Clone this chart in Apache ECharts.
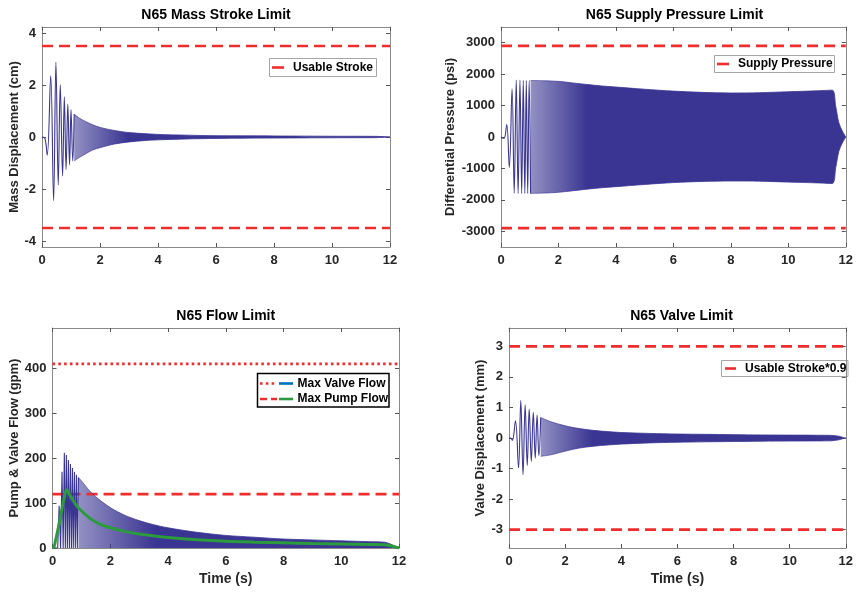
<!DOCTYPE html>
<html><head><meta charset="utf-8">
<script src="https://cdn.jsdelivr.net/npm/echarts@6/dist/echarts.min.js"></script>
<style>html,body{margin:0;padding:0;background:#fff}#c{width:856px;height:594px}</style>
</head><body><div id="c"></div>
<script>
// ---------- shared ----------
const xTicks = [0, 2, 4, 6, 8, 10, 12];

// ---------- Panel 1: N65 Mass Stroke Limit ----------
const massTicks = [-4, -2, 0, 2, 4];
const massLimit = 3.5;
const massEarlyT = [0, 0.1, 0.18, 0.30, 0.40, 0.48, 0.56, 0.63, 0.71, 0.77, 0.83, 0.89, 0.95, 1.0, 1.06, 1.11];
const massEarlyV = [0, -0.05, -0.70, 2.35, -2.45, 2.87, -1.84, 2.02, -1.50, 1.55, -1.25, 1.27, -1.07, 1.06, -0.92, 0.88];
const massEnvT = [1.11, 1.3, 1.5, 1.75, 2, 2.5, 3, 3.5, 4, 5, 6, 7, 8, 10, 11.5, 12];
const massEnvUpper = [0.88, 0.72, 0.6, 0.47, 0.37, 0.25, 0.17, 0.13, 0.1, 0.07, 0.05, 0.045, 0.04, 0.03, 0.025, 0];
const massEnvLower = [-0.92, -0.78, -0.65, -0.5, -0.41, -0.27, -0.19, -0.14, -0.11, -0.075, -0.055, -0.045, -0.04, -0.03, -0.025, 0];

// ---------- Panel 2: N65 Supply Pressure Limit ----------
const presTicks = [-3000, -2000, -1000, 0, 1000, 2000, 3000];
const presLimit = 2900;
const presEarlyT = [0, 0.05, 0.11, 0.2, 0.29, 0.385, 0.46, 0.53, 0.595, 0.66, 0.72, 0.775, 0.83, 0.88, 0.93, 0.98, 1.03];
const presEarlyV = [0, -30, -40, 400, -970, 1530, -1790, 1810, -1800, 1810, -1800, 1805, -1800, 1800, -1800, 1800, -1795];
const presEnvT = [1.03, 1.5, 2, 2.5, 3, 3.5, 4, 5, 6, 7, 8, 9, 10, 11, 11.53, 11.65, 11.76, 11.88, 12];
const presEnvUpper = [1800, 1790, 1770, 1720, 1670, 1625, 1590, 1520, 1460, 1420, 1400, 1410, 1440, 1470, 1490, 980, 450, 190, 0];
const presEnvLower = [-1795, -1785, -1760, -1710, -1660, -1615, -1580, -1510, -1450, -1415, -1400, -1405, -1435, -1460, -1480, -980, -450, -190, 0];

// ---------- Panel 3: N65 Flow Limit ----------
const flowTicks = [0, 100, 200, 300, 400];
const maxValveFlow = 410;
const maxPumpFlow = 120;
const flowEarlyT = [0, 0.18, 0.23, 0.28, 0.33, 0.37, 0.41, 0.445, 0.48, 0.515, 0.55, 0.585, 0.62, 0.655, 0.69, 0.72, 0.76, 0.79, 0.83, 0.86, 0.9];
const flowEarlyV = [0, 0, 94, 0, 170, 0, 212, 0, 207, 0, 196, 0, 187, 0, 178, 0, 170, 0, 163, 0, 157];
const flowEnvT = [0.9, 1, 1.25, 1.5, 2, 2.5, 3, 3.5, 4, 5, 6, 7, 8, 9, 10, 11, 11.5, 11.7, 11.85, 12];
const flowEnvUpper = [157, 150, 130, 114, 90, 73, 61, 52, 45, 35, 28, 24, 20, 18, 16, 14, 13, 9, 4, 0];
const pumpT = [0, 0.05, 0.1, 0.2, 0.3, 0.4, 0.48, 0.52, 0.6, 0.7, 0.85, 1.0, 1.3, 1.64, 2, 2.5, 3, 3.5, 4, 5, 6, 7, 8, 9, 10, 11, 11.5, 11.7, 12];
const pumpV = [0, 2, 15, 45, 78, 110, 130, 128, 118, 107, 93, 83, 66, 53, 45, 37, 31, 27, 23.5, 18.5, 15, 13, 11.5, 10, 9, 8, 7.5, 5, 0];

// ---------- Panel 4: N65 Valve Limit ----------
const valveTicks = [-3, -2, -1, 0, 1, 2, 3];
const valveLimit = 3;
const valveEarlyT = [0, 0.06, 0.12, 0.23, 0.34, 0.42, 0.5, 0.575, 0.65, 0.72, 0.795, 0.865, 0.935, 1.0, 1.065, 1.13];
const valveEarlyV = [0, 0, -0.08, 0.56, -0.97, 1.23, -1.2, 1.09, -0.9, 0.95, -0.77, 0.84, -0.66, 0.75, -0.58, 0.67];
const valveEnvT = [1.13, 1.5, 2, 2.5, 3, 3.5, 4, 5, 6, 7, 8, 9, 10, 11, 11.5, 11.75, 11.9, 12];
const valveEnvUpper = [0.67, 0.53, 0.4, 0.31, 0.25, 0.21, 0.18, 0.15, 0.13, 0.12, 0.11, 0.1, 0.095, 0.09, 0.085, 0.06, 0.02, 0];
const valveEnvLower = [-0.6, -0.55, -0.43, -0.33, -0.27, -0.23, -0.2, -0.16, -0.14, -0.125, -0.115, -0.105, -0.1, -0.095, -0.09, -0.06, -0.02, 0];

// ---------- styling ----------
const FONT = "'Liberation Sans', Arial, sans-serif";
const AX = '#8a8a8a';
const TXT = '#262626';
const RED = '#ef2d2d';
const GREEN = '#2c9b3e';
const SIG = 'rgba(58,53,146,1)';
const sig = a => `rgba(58,53,146,${a})`;
const zip = (a, b) => a.map((v, i) => [v, b[i]]);

const panels = [
  { grid: { left: 42, top: 27, width: 348, height: 220 }, ymin: -4.23, ymax: 4.23, ticks: massTicks, yName: 'Mass Displacement (cm)', yGap: 21, xName: '', fadeStop: 0.17 },
  { grid: { left: 501, top: 27, width: 347, height: 220 }, ymin: -3500, ymax: 3500, ticks: presTicks, yName: 'Differential Pressure (psi)', yGap: 44, xName: '', fadeStop: 0.18 },
  { grid: { left: 52.5, top: 328, width: 346.5, height: 220 }, ymin: 0, ymax: 490, ticks: flowTicks, yName: 'Pump & Valve Flow (gpm)', yGap: 32, xName: 'Time (s)', fadeStop: 0.24 },
  { grid: { left: 509, top: 328, width: 345, height: 220 }, ymin: -3.6, ymax: 3.6, ticks: valveTicks, yName: 'Valve Displacement (mm)', yGap: 22, xName: 'Time (s)', fadeStop: 0.17 }
];

const grids = [], xAxes = [], yAxes = [], series = [];
const labelStyle = { color: TXT, fontFamily: FONT, fontWeight: 'bold', fontSize: 13, formatter: v => String(v) };

panels.forEach((p, i) => {
  grids.push(Object.assign({ containLabel: false }, p.grid));
  const base = (extra) => Object.assign({
    gridIndex: i, type: 'value', splitLine: { show: false },
    axisLine: { show: true, onZero: false, lineStyle: { color: AX, width: 1 } }
  }, extra);
  xAxes.push(base({
    position: 'bottom', min: 0, max: 12,
    axisTick: { show: true, inside: true, length: 4, customValues: xTicks, lineStyle: { color: '#555' } },
    axisLabel: Object.assign({ customValues: xTicks, margin: 7 }, labelStyle),
    name: p.xName, nameLocation: 'middle', nameGap: 24,
    nameTextStyle: { color: TXT, fontFamily: FONT, fontWeight: 'bold', fontSize: 14 }
  }));
  xAxes.push(base({
    position: 'top', min: 0, max: 12,
    axisTick: { show: true, inside: true, length: 4, customValues: xTicks, lineStyle: { color: '#555' } },
    axisLabel: { show: false }
  }));
  yAxes.push(base({
    position: 'left', min: p.ymin, max: p.ymax,
    axisTick: { show: true, inside: true, length: 4, customValues: p.ticks, lineStyle: { color: '#555' } },
    axisLabel: Object.assign({ customValues: p.ticks, margin: 6 }, labelStyle),
    name: p.yName, nameLocation: 'middle', nameGap: p.yGap,
    nameTextStyle: { color: TXT, fontFamily: FONT, fontWeight: 'bold', fontSize: 13 }
  }));
  yAxes.push(base({
    position: 'right', min: p.ymin, max: p.ymax,
    axisTick: { show: true, inside: true, length: 4, customValues: p.ticks, lineStyle: { color: '#555' } },
    axisLabel: { show: false }
  }));
});

function ax(i) { return { xAxisIndex: 2 * i, yAxisIndex: 2 * i }; }
function limitLine(i, val, dash) {
  series.push(Object.assign({
    type: 'line', data: [[0, val], [12, val]], symbol: 'none', silent: true, animation: false,
    lineStyle: { color: RED, width: 2.6, type: dash }
  }, ax(i)));
}
function fadeGrad(stop, a0, a1) {
  return { type: 'linear', x: 0, y: 0, x2: 1, y2: 0, colorStops: [
    { offset: 0, color: sig(a0) }, { offset: stop, color: sig(a1) }, { offset: 1, color: sig(a1) }] };
}
function early(i, t, v, smooth) {
  series.push(Object.assign({
    type: 'line', data: zip(t, v), symbol: 'none', smooth: smooth, animation: false, silent: true,
    lineStyle: { color: SIG, width: 1.1 }
  }, ax(i)));
}
function band(i, t, v, stop) {
  series.push(Object.assign({
    type: 'line', data: zip(t, v), symbol: 'none', smooth: 0.3, animation: false, silent: true,
    lineStyle: { color: fadeGrad(stop, 0.7, 1), width: 0.8 },
    areaStyle: { color: fadeGrad(stop, 0.55, 1), opacity: 1, origin: 'auto' }
  }, ax(i)));
}

const DASH = [11, 6];
const DOT = [2.6, 3.2];

// Panel 1
limitLine(0, massLimit, DASH); limitLine(0, -massLimit, DASH);
early(0, massEarlyT, massEarlyV, 0.4);
band(0, massEnvT, massEnvUpper, panels[0].fadeStop);
band(0, massEnvT, massEnvLower, panels[0].fadeStop);

// Panel 2
limitLine(1, presLimit, DASH); limitLine(1, -presLimit, DASH);
early(1, presEarlyT, presEarlyV, 0.4);
band(1, presEnvT, presEnvUpper, panels[1].fadeStop);
band(1, presEnvT, presEnvLower, panels[1].fadeStop);

// Panel 3
limitLine(2, maxValveFlow, DOT); limitLine(2, maxPumpFlow, DASH);
early(2, flowEarlyT, flowEarlyV, false);
band(2, flowEnvT, flowEnvUpper, panels[2].fadeStop);
series.push(Object.assign({
  type: 'line', data: zip(pumpT, pumpV), symbol: 'none', smooth: 0.3, animation: false, silent: true,
  lineStyle: { color: GREEN, width: 3 }
}, ax(2)));

// Panel 4
limitLine(3, valveLimit, DASH); limitLine(3, -valveLimit, DASH);
early(3, valveEarlyT, valveEarlyV, 0.4);
band(3, valveEnvT, valveEnvUpper, panels[3].fadeStop);
band(3, valveEnvT, valveEnvLower, panels[3].fadeStop);

// ---------- titles and legends (graphic) ----------
const titles = [
  { text: 'N65 Mass Stroke Limit', x: 216, y: 15 },
  { text: 'N65 Supply Pressure Limit', x: 674.5, y: 15 },
  { text: 'N65 Flow Limit', x: 225.75, y: 316.5 },
  { text: 'N65 Valve Limit', x: 681.5, y: 316.5 }
];
const graphic = titles.map(t => ({
  type: 'text', silent: true,
  style: { text: t.text, x: t.x, y: t.y, align: 'center', verticalAlign: 'middle',
    font: `bold 14px ${FONT}`, fill: '#000' }
}));
function legendBox(x, y, w, h, stroke, lw) {
  graphic.push({ type: 'rect', silent: true, shape: { x, y, width: w, height: h },
    style: { fill: '#fff', stroke, lineWidth: lw } });
}
function legendLine(x1, x2, y, color, dash, w) {
  graphic.push({ type: 'line', silent: true, shape: { x1, y1: y, x2, y2: y },
    style: { stroke: color, lineWidth: w || 2.6, lineDash: dash || null } });
}
function legendText(x, y, text) {
  graphic.push({ type: 'text', silent: true,
    style: { text, x, y, align: 'left', verticalAlign: 'middle', font: `bold 12px ${FONT}`, fill: '#000' } });
}
// Panel 1 legend
legendBox(269.5, 58.5, 107, 18, '#a6a6a6', 1);
legendLine(272, 284, 67.5, RED);
legendText(293, 67.5, 'Usable Stroke');
// Panel 2 legend
legendBox(714.5, 55.5, 120, 17, '#a6a6a6', 1);
legendLine(717, 729, 64, RED);
legendText(738, 64, 'Supply Pressure');
// Panel 3 legend
legendBox(257.5, 373.5, 131.5, 33.5, '#000', 1.5);
legendLine(260, 277, 383.5, RED, DOT);
legendLine(279, 293, 383.5, '#0072bd', null, 2.6);
legendText(297.5, 383.5, 'Max Valve Flow');
legendLine(260, 277, 399, RED, [7, 4]);
legendLine(279, 293, 399, GREEN, null, 2.6);
legendText(297.5, 399, 'Max Pump Flow');
// Panel 4 legend
legendBox(721.5, 360.5, 126.5, 16, '#a6a6a6', 1);
legendLine(725, 736, 368.5, RED);
legendText(745, 368.5, 'Usable Stroke*0.9');

const chart = echarts.init(document.getElementById('c'), null, { renderer: 'canvas' });
chart.setOption({
  backgroundColor: '#fff',
  animation: false,
  grid: grids, xAxis: xAxes, yAxis: yAxes, series, graphic
});
</script></body></html>
